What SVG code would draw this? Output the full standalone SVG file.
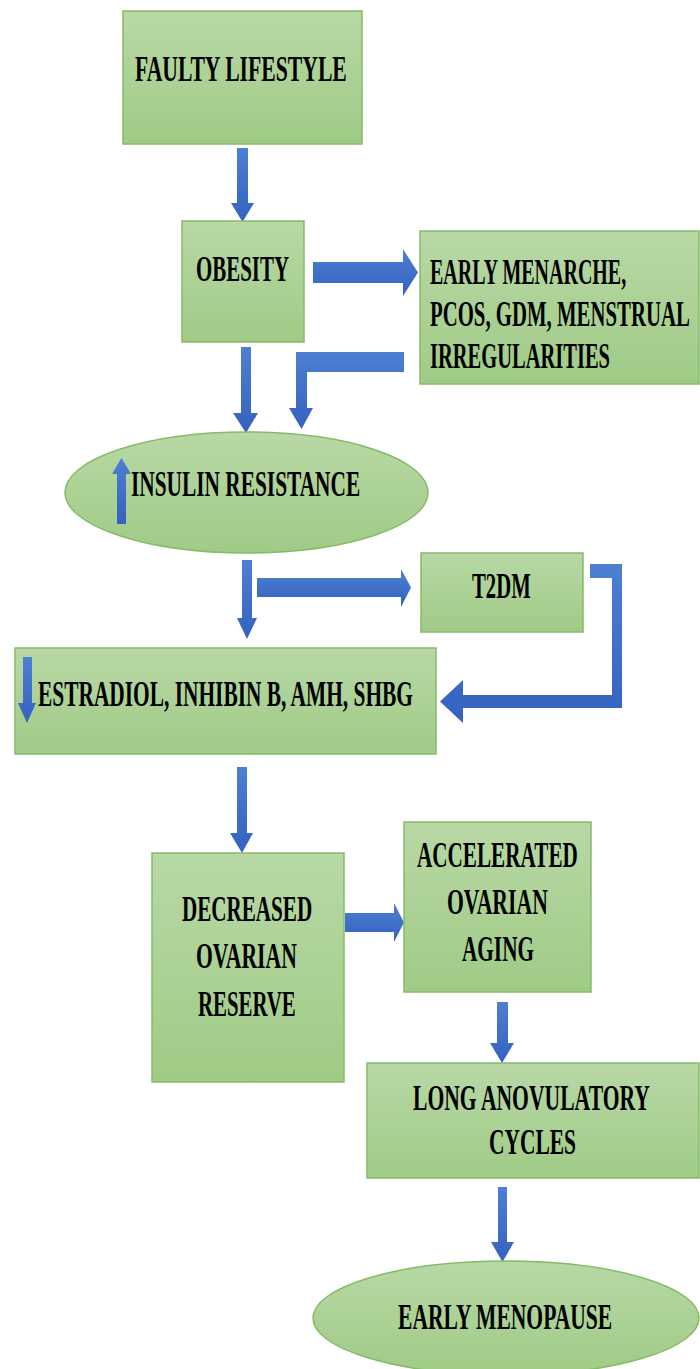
<svg xmlns="http://www.w3.org/2000/svg" width="700" height="1369" viewBox="0 0 700 1369">
<defs>
<linearGradient id="g" x1="0" y1="0" x2="0" y2="1">
<stop offset="0" stop-color="#b8d8a5"/>
<stop offset="1" stop-color="#a0cb86"/>
</linearGradient>
<linearGradient id="b" x1="0" y1="0" x2="0" y2="1">
<stop offset="0" stop-color="#4d7fd2"/>
<stop offset="1" stop-color="#3462c0"/>
</linearGradient>
<style>
.n{fill:url(#g);stroke:#85bb68;stroke-width:1.5}
.t{font-family:"Liberation Serif","Times New Roman",serif;font-weight:bold;font-size:35px;fill:#000}
.a{fill:url(#b);stroke:none}
</style>
</defs>
<rect width="700" height="1369" fill="#fff"/>
<g id="connectors">
<polygon class="a" points="237,148 248,148 248,203 254,203 242.5,222 231,203 237,203"/>
<polygon class="a" points="313,262 403,262 403,249 418,272.5 403,296 403,283 313,283"/>
<polygon class="a" points="241,347 251,347 251,413 258,413 246,433 233,413 241,413"/>
<polygon class="a" points="404,352 404,372 307,372 307,408 313,408 301.5,429 289,408 296,408 296,352"/>
<polygon class="a" points="242,560 252,560 252,618 257,618 247,639 237,618 242,618"/>
<polygon class="a" points="257,578 401,578 401,569 411,587.5 401,607 401,597 257,597"/>
<polygon class="a" points="590,564 622,564 622,708 463,708 463,723 440,701.5 463,680 463,695 612,695 612,578 590,578"/>
<polygon class="a" points="237,767 247,767 247,833 253,833 242,853 230,833 237,833"/>
<polygon class="a" points="345,913 394,913 394,903 404,922.5 394,942 394,932 345,932"/>
<polygon class="a" points="497,1002 508,1002 508,1043 514,1043 502,1063 490,1043 497,1043"/>
<polygon class="a" points="498,1187 507,1187 507,1242 514,1242 502.5,1262 491,1242 498,1242"/>
</g>
<g id="faulty-lifestyle">
<rect class="n" x="123" y="11" width="239" height="133"/>
<text class="t" transform="translate(135,0) scale(0.6,1)" x="0" y="81" textLength="353" lengthAdjust="spacingAndGlyphs">FAULTY LIFESTYLE</text>
</g>
<g id="obesity">
<rect class="n" x="182" y="221" width="122" height="121"/>
<text class="t" transform="translate(196,0) scale(0.6,1)" x="0" y="281" textLength="155" lengthAdjust="spacingAndGlyphs">OBESITY</text>
</g>
<g id="early-menarche">
<rect class="n" x="420" y="231" width="279" height="153"/>
<g transform="translate(430,0) scale(0.6,1)">
<text class="t" x="0" y="284" textLength="327" lengthAdjust="spacingAndGlyphs">EARLY MENARCHE,</text>
<text class="t" x="0" y="326" textLength="433" lengthAdjust="spacingAndGlyphs">PCOS, GDM, MENSTRUAL</text>
<text class="t" x="0" y="368" textLength="300" lengthAdjust="spacingAndGlyphs">IRREGULARITIES</text>
</g>
</g>
<g id="insulin-resistance">
<ellipse class="n" cx="246.5" cy="492.5" rx="181.5" ry="60.5"/>
<polygon class="a" points="117,524 126,524 126,474 131,474 121.5,458 112,474 117,474"/>
<text class="t" transform="translate(131,0) scale(0.6,1)" x="0" y="496" textLength="382" lengthAdjust="spacingAndGlyphs">INSULIN RESISTANCE</text>
</g>
<g id="t2dm">
<rect class="n" x="421" y="553" width="162" height="79"/>
<text class="t" transform="translate(472,0) scale(0.6,1)" x="0" y="598" textLength="98" lengthAdjust="spacingAndGlyphs">T2DM</text>
</g>
<g id="estradiol">
<rect class="n" x="15" y="648" width="421" height="106"/>
<polygon class="a" points="23,657 32,657 32,703 36,703 27,723 18,703 23,703"/>
<text class="t" transform="translate(38,0) scale(0.6,1)" x="0" y="706" textLength="625" lengthAdjust="spacingAndGlyphs">ESTRADIOL, INHIBIN B, AMH, SHBG</text>
</g>
<g id="decreased-ovarian-reserve">
<rect class="n" x="152" y="853" width="192" height="229"/>
<g transform="scale(0.6,1)">
<text class="t" x="303.3" y="921" textLength="217" lengthAdjust="spacingAndGlyphs">DECREASED</text>
<text class="t" x="326.7" y="968" textLength="168" lengthAdjust="spacingAndGlyphs">OVARIAN</text>
<text class="t" x="330" y="1016" textLength="163" lengthAdjust="spacingAndGlyphs">RESERVE</text>
</g>
</g>
<g id="accelerated-ovarian-aging">
<rect class="n" x="404" y="822" width="187" height="170"/>
<g transform="scale(0.6,1)">
<text class="t" x="695" y="867" textLength="268" lengthAdjust="spacingAndGlyphs">ACCELERATED</text>
<text class="t" x="745" y="914" textLength="168" lengthAdjust="spacingAndGlyphs">OVARIAN</text>
<text class="t" x="770" y="961" textLength="120" lengthAdjust="spacingAndGlyphs">AGING</text>
</g>
</g>
<g id="long-anovulatory-cycles">
<rect class="n" x="367" y="1063" width="332" height="115"/>
<g transform="scale(0.6,1)">
<text class="t" x="688.3" y="1110" textLength="395" lengthAdjust="spacingAndGlyphs">LONG ANOVULATORY</text>
<text class="t" x="815" y="1154" textLength="145" lengthAdjust="spacingAndGlyphs">CYCLES</text>
</g>
</g>
<g id="early-menopause">
<ellipse class="n" cx="506" cy="1318" rx="193" ry="57"/>
<text class="t" transform="translate(398,0) scale(0.6,1)" x="0" y="1329" textLength="357" lengthAdjust="spacingAndGlyphs">EARLY MENOPAUSE</text>
</g>
</svg>
